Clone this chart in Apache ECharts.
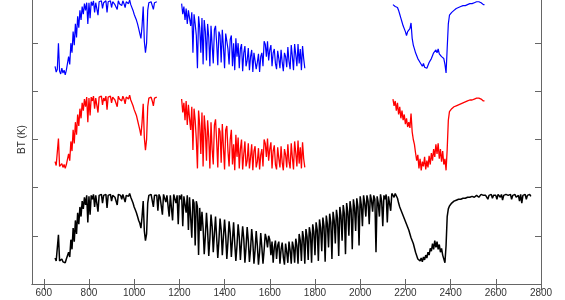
<!DOCTYPE html>
<html>
<head>
<meta charset="utf-8">
<script src="https://cdn.jsdelivr.net/npm/echarts@6/dist/echarts.min.js"></script>
<style>html,body{margin:0;padding:0;background:#fff;overflow:hidden;width:565px;height:300px;position:relative}#c{position:absolute;left:0;top:-5px;width:565px;height:305px}</style>
</head>
<body>
<div id="c"></div>
<script>
// wavenumber sampling (cm-1) of each spectrum segment
const STEP = 5;
const xTicks = [600,800,1000,1200,1400,1600,1800,2000,2200,2400,2600,2800];
const yLabel = 'BT (K)';

// observed (black), 650 .. 2755
const blackStart = 650;
const black = [
27,24,26,51,24,22,26,23,25,22,
26,24,33,28,46,36,58,44,66,52,
74,62,80,70,86,78,90,82,92,64,
91,72,92,88,93,80,92,90,75,92,
91,93,84,92,90,93,79,92,91,93,
86,92,93,90,92,82,93,91,92,88,
93,91,85,92,93,91,94,90,88,84,
80,77,74,70,66,63,58,70,86,55,
45,52,84,92,90,93,91,80,92,93,
92,76,93,90,92,72,93,91,85,92,
93,70,92,90,66,93,91,84,92,62,
92,88,93,60,91,90,74,92,56,90,
89,48,88,84,40,86,80,30,79,55,
75,58,31,50,74,55,29,47,72,60,
33,52,70,48,27,45,68,56,30,49,
67,50,26,44,65,53,28,46,64,42,
24,40,62,49,25,43,60,47,22,38,
59,45,23,36,57,44,21,35,55,40,
20,33,53,38,21,35,52,47,38,50,
46,30,44,22,38,45,26,40,44,21,
36,43,28,20,42,33,22,44,35,21,
44,38,22,47,40,21,52,45,24,55,
47,21,57,49,25,59,52,22,62,54,
30,64,56,24,67,58,34,69,60,23,
71,62,38,73,64,26,75,66,42,77,
68,29,80,71,45,82,73,31,84,75,
50,86,77,36,88,79,55,89,80,40,
91,82,60,92,84,70,92,86,62,93,
87,75,92,88,33,91,84,70,93,86,
60,92,88,93,64,91,93,76,94,93,
90,94,92,89,84,80,82,74,76,68,
70,62,64,56,55,48,50,42,40,33,
32,26,28,24,27,23,28,25,30,27,
33,30,37,34,42,36,45,38,44,36,
41,33,37,30,28,22,40,70,78,81,
83,84,85,86,86,87,87,88,87,88,
88,89,88,89,89,90,89,90,90,91,
91,90,91,92,93,90,92,93,91,92,
90,92,91,88,92,91,93,89,92,91,
92,88,93,91,90,93,87,92,91,93,
91,92,90,93,88,92,91,93,90,92,
92,86,93,84,92,91,93,88,92,90,93,91
];

// simulation (red), three bands
const red1Start = 650;
const red1 = [
127,123,125,151,122,120,125,121,124,120,
124,125,135,128,148,138,160,146,168,155,
176,164,182,172,188,180,192,184,194,168,
193,175,194,190,195,182,193,191,178,194,
192,195,186,193,190,195,181,194,192,195,
188,194,195,191,193,184,195,192,194,190,
195,192,187,194,195,192,196,191,189,185,
181,178,175,170,165,160,154,168,187,152,
139,150,184,193,191,194,190,185,193,195,
194
];
const red2Start = 1210;
const red2 = [
192,178,188,170,190,165,186,172,160,184,
139,182,170,150,120,180,165,135,178,122,
175,160,128,170,152,120,168,140,124,165,
171,148,121,162,158,126,166,142,119,160,
164,138,122,150,160,124,145,118,155,132,
152,120,140,150,119,135,148,122,128,146,
120,132,145,118,138,143,121,127,141,119,
134,140,122,150,146,132,151,128,140,147,
120,138,144,124,119,142,130,121,143,126,
118,140,134,121,145,127,120,146,131,119,
148,136,122,149,125,142,120,147,130,121
];
const red3Start = 2145;
const red3 = [
192,185,190,180,188,176,184,172,180,170,
176,166,172,163,168,162,177,158,150,145,
136,128,134,120,130,118,127,122,132,119,
128,121,133,124,136,128,140,132,145,135,
146,130,140,127,138,124,130,118,140,170,
179,181,182,183,184,185,185,186,186,187,
187,188,188,189,189,190,190,190,191,191,
191,192,192,192,193,193,193,192,192,191,
190,190
];

// simulation (blue), three bands
const blue1Start = 650;
const blue1 = [
226,220,223,250,221,218,224,219,222,217,
222,224,236,228,250,240,262,248,270,256,
278,266,284,274,288,280,291,284,292,270,
292,276,293,289,294,282,292,290,279,293,
291,294,286,292,290,294,282,293,291,294,
287,293,294,290,292,285,294,291,293,289,
294,291,287,293,294,291,295,290,288,284,
280,277,274,270,265,260,255,268,288,252,
240,250,284,292,290,293,289,285,292,294,
293
];
const blue2Start = 1210;
const blue2 = [
291,280,288,274,286,270,284,276,268,282,
240,280,270,258,224,278,266,240,276,228,
274,262,232,270,256,226,268,248,229,264,
268,250,227,262,258,230,264,246,224,260,
260,244,228,254,258,226,250,222,255,236,
250,224,244,249,221,240,247,226,232,245,
222,236,243,220,240,241,223,230,239,220,
236,240,226,252,249,236,252,232,243,248,
226,240,244,229,223,242,234,224,243,230,
221,240,236,225,246,231,223,248,236,222,
249,238,226,249,229,244,222,247,234,224
];
const blue3Start = 2145;
const blue3 = [
290,289,288,286,287,284,280,276,272,268,
266,262,258,262,260,265,271,255,248,244,
240,238,234,236,230,228,226,229,225,227,
224,226,230,228,234,236,240,238,243,240,
244,239,241,236,238,234,228,219,245,270,
279,281,282,283,284,285,286,286,287,287,
288,288,289,289,289,290,290,290,291,291,
291,292,292,292,293,293,293,292,292,291,
290,290
];

function pts(start, vals) { return vals.map((v, i) => [start + i * STEP, v]); }
function ser(start, vals, color, w) {
  return { type: 'line', data: pts(start, vals), showSymbol: false, symbol: 'none',
    lineStyle: { color: color, width: w }, itemStyle: { color: color }, silent: true, z: 2 };
}

const font = 'Liberation Sans, Arial, Helvetica, sans-serif';
const axisCol = '#666';
const chart = echarts.init(document.getElementById('c'), null, { renderer: 'canvas' });
const xBase = {
  type: 'value', min: 548, max: 2800,
  axisTick: { show: true, inside: true, length: 5, customValues: xTicks, lineStyle: { color: axisCol } },
  splitLine: { show: false }
};
const yBase = {
  type: 'value', min: 0, max: 300, interval: 50,
  axisLine: { show: true, lineStyle: { color: axisCol, width: 1 } },
  axisTick: { show: true, inside: true, length: 6, lineStyle: { color: axisCol } },
  axisLabel: { show: false },
  splitLine: { show: false }
};
chart.setOption({
  animation: false,
  backgroundColor: '#fff',
  grid: { left: 32, right: 24, top: 0, bottom: 16, containLabel: false },
  xAxis: [
    Object.assign({}, xBase, { position: 'bottom',
      axisLine: { show: true, lineStyle: { color: axisCol, width: 1 } },
      axisLabel: { show: true, customValues: xTicks, color: '#333', fontSize: 10, fontFamily: font, margin: 4,
        formatter: v => String(v) } }),
    Object.assign({}, xBase, { position: 'top',
      axisLine: { show: true, lineStyle: { color: axisCol, width: 1 } },
      axisTick: { show: true, inside: true, length: 6, customValues: xTicks, lineStyle: { color: axisCol } },
      axisLabel: { show: false } })
  ],
  yAxis: [
    Object.assign({}, yBase, { position: 'left', name: yLabel, nameLocation: 'middle', nameGap: 5,
      nameTextStyle: { color: '#333', fontSize: 10, fontFamily: font } }),
    Object.assign({}, yBase, { position: 'right' })
  ],
  series: [
    ser(blackStart, black, '#000000', 1.5),
    ser(red1Start, red1, '#ff0000', 1.3),
    ser(red2Start, red2, '#ff0000', 1.3),
    ser(red3Start, red3, '#ff0000', 1.3),
    ser(blue1Start, blue1, '#0000ff', 1.2),
    ser(blue2Start, blue2, '#0000ff', 1.2),
    ser(blue3Start, blue3, '#0000ff', 1.2)
  ]
});
</script>
</body>
</html>
